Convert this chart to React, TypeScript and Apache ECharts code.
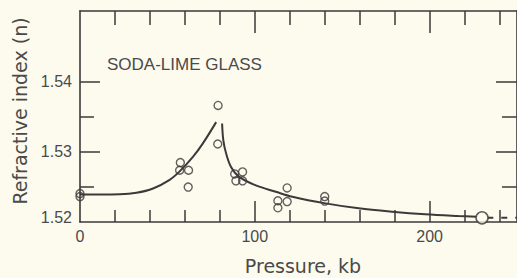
import React, { useEffect, useRef } from "react";
import * as echarts from "echarts";

// Pressure (kb), refractive index n
const risingCurve: [number, number][] = [
  [0, 1.5239], [12, 1.5239], [22.8, 1.52393], [32.3, 1.52415], [41.8, 1.52477],
  [51.3, 1.526], [57, 1.5272], [64.6, 1.52925], [70.2, 1.53114], [77.9, 1.5342],
];
const fallingCurve: [number, number][] = [
  [81.3, 1.534], [82, 1.5316], [83.6, 1.52973], [86.4, 1.52783], [91.1, 1.52641],
  [100.6, 1.5252], [112, 1.5243], [121.5, 1.5236], [140.5, 1.52265],
  [159.5, 1.52194], [178.5, 1.52146], [197.5, 1.52109], [216.5, 1.52085], [227, 1.52075],
];
const tailCurve: [number, number][] = [[233, 1.5206], [250, 1.5206]];
const measuredPoints: [number, number][] = [
  [0, 1.52404], [0, 1.52361],
  [57.4, 1.52845], [57.0, 1.52736], [62.1, 1.52736], [61.9, 1.52496],
  [79.0, 1.53657], [78.8, 1.53109],
  [88.5, 1.52684], [93.0, 1.52712], [89.2, 1.52585], [93.0, 1.52585],
  [113.2, 1.52302], [113.2, 1.52202], [118.5, 1.52484], [118.5, 1.5229],
  [140.0, 1.52361], [140.0, 1.52297],
];
const transitionPoint: [number, number][] = [[230, 1.5206]];

const xLabelValues = [0, 100, 200];
const xMinorTicks = [20, 40, 60, 80, 120, 140, 160, 180, 220, 240];
const xMajorTicks = [100, 200];
const yLabelValues = [1.52, 1.53, 1.54];
const yMajorTicks = [1.53, 1.54];
const yMinorTicks = [1.525, 1.535];

const INK = "#3a3a3a";
const TEXT = "#4a4a4a";
const BG = "#fdfbee";

export default function App() {
  const ref = useRef<HTMLDivElement>(null);
  useEffect(() => {
    if (!ref.current) return;
    const chart = echarts.init(ref.current, undefined, { renderer: "svg" });
    const axisLine = { show: true, onZero: false, lineStyle: { color: INK, width: 1.6 } };
    const noLine = { show: false, onZero: false };
    const tick = (vals: number[], len: number) => ({
      show: true, inside: true, length: len, customValues: vals,
      lineStyle: { color: INK, width: 1.5 },
    });
    const xBase = { type: "value" as const, min: 0, max: 250, splitLine: { show: false } };
    const yBase = { type: "value" as const, min: 1.52, max: 1.55, splitLine: { show: false } };
    const labelFont = { fontFamily: "Liberation Sans", fontSize: 16, color: TEXT };
    chart.setOption({
      animation: false,
      backgroundColor: BG,
      grid: { left: 80, top: 11, width: 439, height: 211, containLabel: false },
      xAxis: [
        {
          ...xBase, position: "bottom", axisLine,
          axisTick: tick(xMinorTicks, 12),
          axisLabel: { ...labelFont, margin: 6, customValues: xLabelValues },
        },
        { ...xBase, position: "bottom", axisLine: noLine, axisTick: tick(xMajorTicks, 21), axisLabel: { show: false } },
        { ...xBase, position: "top", axisLine, axisTick: tick(xMinorTicks, 14), axisLabel: { show: false } },
        { ...xBase, position: "top", axisLine: noLine, axisTick: tick(xMajorTicks, 22), axisLabel: { show: false } },
      ],
      yAxis: [
        {
          ...yBase, position: "left", axisLine,
          axisTick: tick(yMajorTicks, 20),
          axisLabel: {
            ...labelFont, margin: 8, customValues: yLabelValues,
            formatter: (v: number) => (Math.abs(v - 1.52) < 1e-9 ? "{lo|1.52}" : v.toFixed(2)),
            rich: { lo: { ...labelFont, padding: [0, 0, 9, 0] } },
          },
        },
        { ...yBase, position: "left", axisLine: noLine, axisTick: tick(yMinorTicks, 14), axisLabel: { show: false } },
        { ...yBase, position: "right", axisLine, axisTick: tick(yMajorTicks, 21), axisLabel: { show: false } },
        { ...yBase, position: "right", axisLine: noLine, axisTick: tick(yMinorTicks, 15), axisLabel: { show: false } },
      ],
      series: [
        {
          type: "line", data: risingCurve, smooth: 0.35, showSymbol: false,
          lineStyle: { color: INK, width: 2 },
        },
        {
          type: "line", data: fallingCurve, smooth: 0.35, showSymbol: false,
          lineStyle: { color: INK, width: 2 },
        },
        {
          type: "line", data: tailCurve, showSymbol: false,
          lineStyle: { color: INK, width: 2, type: [6, 8] },
        },
        {
          type: "scatter", data: measuredPoints, symbol: "circle", symbolSize: 8,
          itemStyle: { color: "rgba(0,0,0,0)", borderColor: INK, borderWidth: 1.4 },
        },
        {
          type: "scatter", data: transitionPoint, symbol: "circle", symbolSize: 12,
          itemStyle: { color: BG, borderColor: INK, borderWidth: 1.6 },
          z: 3,
        },
      ],
      graphic: [
        {
          type: "text", left: 107, top: 56,
          style: { text: "SODA-LIME GLASS", font: "17px 'Liberation Sans'", fill: TEXT },
        },
        {
          type: "text", x: 20, y: 111, rotation: Math.PI / 2,
          style: {
            text: "Refractive index (n)", font: "19px 'DejaVu Sans'", fill: TEXT,
            textAlign: "center", textVerticalAlign: "middle",
          },
        },
        {
          type: "text", x: 303, y: 266,
          style: {
            text: "Pressure, kb", font: "19px 'DejaVu Sans'", fill: TEXT,
            textAlign: "center", textVerticalAlign: "middle",
          },
        },
      ],
    });
    return () => chart.dispose();
  }, []);
  return (
    <div
      ref={ref}
      style={{ position: "fixed", left: 0, top: 0, width: 517, height: 278 }}
    />
  );
}
